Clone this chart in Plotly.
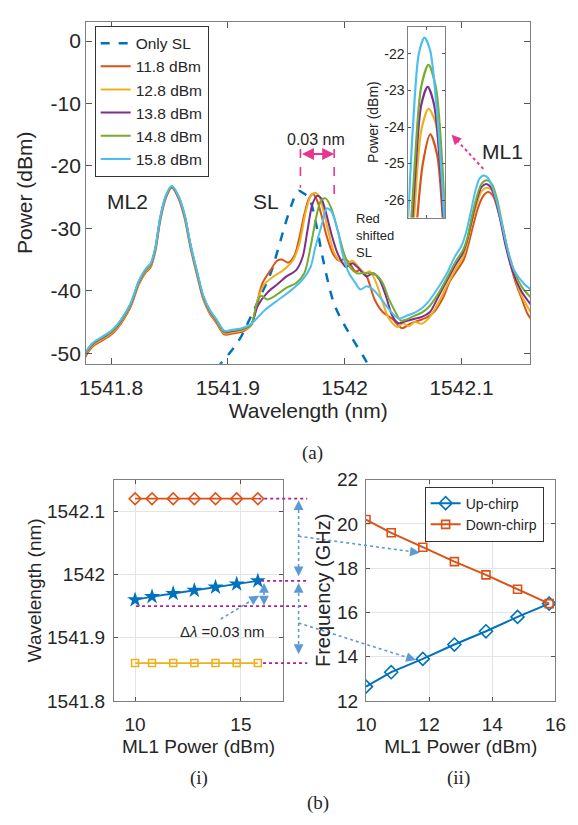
import plotly.graph_objects as go

W, H = 578, 825

# ---------------- (a) spectra data ----------------
ML2_WL = [1541.778, 1541.784, 1541.793, 1541.801, 1541.809, 1541.817, 1541.824, 1541.830,
          1541.834, 1541.838, 1541.842, 1541.847, 1541.852, 1541.858, 1541.863, 1541.868,
          1541.874, 1541.879, 1541.885, 1541.890, 1541.897, 1541.905, 1541.912]

only_sl_wl = [1541.890, 1541.909, 1541.9188, 1541.928, 1541.9366, 1541.9435, 1541.949, 1541.9545,
              1541.9585, 1541.9607, 1541.964, 1541.9695, 1541.9756, 1541.9805, 1541.986, 1541.9915,
              1541.9998, 1542.008, 1542.0175, 1542.022]
only_sl_pw = [-52.5, -48.1, -44.5, -40.8, -37.2, -33.0, -29.4, -26.25, -24.4, -24.0, -24.3, -25.2,
              -29.4, -34.1, -38.75, -42.4, -45.5, -48.1, -51.0, -52.5]

wl_118 = ML2_WL + [1541.920, 1541.9243, 1541.9297, 1541.9366, 1541.9421, 1541.9462, 1541.9517, 1541.9571,
                   1541.9612, 1541.9654, 1541.9695, 1541.9727, 1541.9763, 1541.9804, 1541.9845, 1541.9900,
                   1541.9955, 1541.9996, 1542.0037, 1542.0092, 1542.0133, 1542.0188, 1542.0256, 1542.0325,
                   1542.0407, 1542.049, 1542.055, 1542.060, 1542.066, 1542.071, 1542.076, 1542.080,
                   1542.085, 1542.090, 1542.097, 1542.102, 1542.106, 1542.110, 1542.114, 1542.118,
                   1542.1226, 1542.127, 1542.131, 1542.136, 1542.141, 1542.146, 1542.151, 1542.156, 1542.160]
pw_118 = [-50.6, -49.0, -47.9, -46.9, -45.1, -42.5, -38.9, -37.0, -36.2, -33.6, -28.9, -25.1, -23.5,
          -25.3, -28.4, -33.1, -37.8, -41.4, -43.8, -45.1, -47.0, -46.8, -46.6,
          -45.5, -42.4, -38.75, -36.7, -35.2, -35.0, -35.5, -34.3, -31.5, -27.8, -25.2, -24.5, -25.5,
          -28.1, -31.2, -34.1, -35.2, -34.9, -35.4, -36.9, -36.7, -37.7, -41.4, -43.4, -44.5, -46.0,
          -45.4, -45.0, -44.6, -44.2, -43.5, -42.5, -40.8, -38.5, -36.5, -35.0, -32.5, -29.5, -26.8,
          -25.0, -24.2, -24.8, -27.0, -30.5, -35.0, -38.5, -41.0, -43.5, -44.7]

wl_128 = ML2_WL + [1541.920, 1541.9256, 1541.9311, 1541.9393, 1541.9475, 1541.9558, 1541.9612, 1541.9667,
                   1541.9708, 1541.9744, 1541.9782, 1541.9826, 1541.9873, 1541.9914, 1541.9969, 1542.0024,
                   1542.0065, 1542.0119, 1542.0174, 1542.0215, 1542.027, 1542.0325, 1542.038, 1542.045,
                   1542.050, 1542.055, 1542.060, 1542.066, 1542.072, 1542.080, 1542.088, 1542.095,
                   1542.101, 1542.105, 1542.109, 1542.113, 1542.117, 1542.1215, 1542.126, 1542.130,
                   1542.134, 1542.139, 1542.145, 1542.152, 1542.160]
pw_128 = [-50.3, -48.8, -47.7, -46.7, -44.9, -42.3, -38.7, -36.8, -36.0, -33.4, -28.7, -25.0, -23.4,
          -25.2, -28.2, -32.9, -37.6, -41.2, -43.6, -44.9, -46.8, -46.6, -46.4,
          -45.5, -41.4, -39.0, -37.7, -36.7, -35.1, -32.5, -27.3, -24.9, -24.3, -24.9, -27.8, -31.5,
          -34.1, -35.4, -35.6, -35.2, -36.2, -37.2, -36.9, -38.75, -41.9, -44.5, -45.8, -45.2, -45.7,
          -45.0, -45.3, -44.4, -42.0, -39.0, -36.5, -34.7, -32.3, -29.0, -26.2, -24.1, -23.5, -23.9,
          -25.8, -29.0, -33.5, -37.5, -41.0, -43.7]

wl_138 = ML2_WL + [1541.920, 1541.9256, 1541.9338, 1541.9421, 1541.9503, 1541.9585, 1541.964, 1541.9681,
                   1541.9722, 1541.9763, 1541.9799, 1541.9837, 1541.9886, 1541.9941, 1542.001, 1542.0065,
                   1542.0119, 1542.0188, 1542.0243, 1542.0297, 1542.0352, 1542.0407, 1542.046, 1542.052,
                   1542.060, 1542.066, 1542.073, 1542.080, 1542.088, 1542.095, 1542.101, 1542.105,
                   1542.109, 1542.113, 1542.117, 1542.121, 1542.125, 1542.129, 1542.133, 1542.138,
                   1542.144, 1542.151, 1542.160]
pw_138 = [-50.1, -48.6, -47.5, -46.5, -44.7, -42.1, -38.5, -36.6, -35.8, -33.2, -28.5, -24.9, -23.3,
          -25.1, -28.0, -32.7, -37.4, -41.0, -43.4, -44.7, -46.6, -46.4, -46.2,
          -45.4, -42.4, -40.3, -39.0, -37.7, -36.7, -34.6, -30.4, -26.25, -24.8, -25.2, -27.3, -30.9,
          -34.1, -36.2, -35.6, -36.4, -37.7, -37.2, -38.2, -40.8, -44.0, -45.2, -44.9, -44.5, -44.2,
          -43.4, -41.0, -38.2, -35.8, -34.0, -31.8, -28.5, -25.5, -23.4, -22.9, -23.4, -25.3, -28.5,
          -33.0, -37.0, -40.0, -42.4]

wl_148 = ML2_WL + [1541.920, 1541.9243, 1541.9284, 1541.9338, 1541.9421, 1541.9503, 1541.9585, 1541.9654,
                   1541.9708, 1541.9755, 1541.9799, 1541.9837, 1541.9886, 1541.9941, 1541.9996, 1542.0051,
                   1542.0106, 1542.016, 1542.0215, 1542.027, 1542.0325, 1542.038, 1542.0434, 1542.048,
                   1542.053, 1542.060, 1542.066, 1542.072, 1542.080, 1542.088, 1542.095, 1542.101,
                   1542.105, 1542.109, 1542.113, 1542.117, 1542.1215, 1542.126, 1542.130, 1542.134,
                   1542.139, 1542.145, 1542.152, 1542.160]
pw_148 = [-50.0, -48.5, -47.4, -46.4, -44.6, -42.0, -38.4, -36.5, -35.7, -33.1, -28.4, -24.8, -23.3,
          -25.0, -27.9, -32.6, -37.3, -40.9, -43.3, -44.6, -46.5, -46.3, -46.1,
          -45.4, -42.4, -40.8, -41.4, -40.6, -39.5, -38.75, -37.2, -33.0, -28.3, -25.5, -25.2, -26.8,
          -30.4, -34.1, -36.4, -37.2, -37.2, -37.2, -37.5, -38.75, -41.4, -43.4, -44.8, -44.6, -44.0,
          -43.5, -42.6, -40.5, -37.8, -35.3, -33.6, -31.5, -28.0, -25.0, -22.9, -22.3, -22.9, -25.0,
          -28.5, -33.0, -36.8, -39.5, -41.2]

wl_158 = ML2_WL + [1541.920, 1541.9311, 1541.9421, 1541.953, 1541.964, 1541.9708, 1541.9749, 1541.9804,
                   1541.9845, 1541.9886, 1541.9941, 1541.9982, 1542.0037, 1542.0092, 1542.0133, 1542.0188,
                   1542.0243, 1542.030, 1542.038, 1542.0464, 1542.053, 1542.060, 1542.066, 1542.071,
                   1542.079, 1542.0875, 1542.0944, 1542.100, 1542.104, 1542.108, 1542.112, 1542.1155,
                   1542.119, 1542.1225, 1542.126, 1542.130, 1542.134, 1542.1397, 1542.145, 1542.153, 1542.160]
pw_158 = [-49.9, -48.4, -47.3, -46.3, -44.5, -41.9, -38.3, -36.4, -35.6, -33.0, -28.3, -24.7, -23.2,
          -24.9, -27.8, -32.5, -37.2, -40.8, -43.2, -44.5, -46.4, -46.2, -46.0,
          -45.3, -43.2, -41.6, -40.1, -38.2, -36.2, -33.0, -29.4, -26.8, -27.3, -30.4, -34.1, -37.2,
          -38.75, -39.8, -39.3, -39.8, -41.0, -43.0, -44.5, -44.0, -43.5, -42.8, -41.9, -39.8, -37.2,
          -34.5, -32.8, -30.6, -27.3, -23.9, -22.0, -21.55, -21.9, -23.2, -25.6, -28.9, -33.6, -36.7,
          -38.8, -39.9]

SERIES_NAMES = ["11.8 dBm", "12.8 dBm", "13.8 dBm", "14.8 dBm", "15.8 dBm"]
SERIES_WL = [wl_118, wl_128, wl_138, wl_148, wl_158]
SERIES_PW = [pw_118, pw_128, pw_138, pw_148, pw_158]

# ---------------- (b) data ----------------
ml1_power = [10, 10.8, 11.8, 12.8, 13.8, 14.8, 15.8]
ml1_line_wl = [1542.12, 1542.12, 1542.12, 1542.12, 1542.12, 1542.12, 1542.12]
sl_line_wl = [1541.960, 1541.965, 1541.970, 1541.975, 1541.980, 1541.985, 1541.990]
ml2_line_wl = [1541.86, 1541.86, 1541.86, 1541.86, 1541.86, 1541.86, 1541.86]
up_chirp = [12.65, 13.3, 13.9, 14.55, 15.15, 15.8, 16.4]
down_chirp = [20.2, 19.6, 18.95, 18.3, 17.7, 17.05, 16.4]

C_BLUE, C_ORANGE, C_YELLOW = "#0072BD", "#D95319", "#EDB120"
C_PURPLE, C_GREEN, C_CYAN = "#7E2F8E", "#77AC30", "#4DBEEE"
SERIES_COLORS = [C_ORANGE, C_YELLOW, C_PURPLE, C_GREEN, C_CYAN]
PINK = "#E8368F"
MAGENTA = "#B01E8F"
LBLUE = "#5B9BD5"
SANS = "Liberation Sans"
SERIF = "Liberation Serif"
TXT = "#262626"


def px(x):
    return x / W


def py(y):
    return 1 - y / H


fig = go.Figure()

# main spectra
fig.add_trace(go.Scatter(x=only_sl_wl, y=only_sl_pw, mode="lines", name="Only SL",
                         line=dict(color=C_BLUE, width=2.5, dash="dash", shape="spline"),
                         xaxis="x", yaxis="y", legend="legend"))
for nm, xs, ys, c in zip(SERIES_NAMES, SERIES_WL, SERIES_PW, SERIES_COLORS):
    fig.add_trace(go.Scatter(x=xs, y=ys, mode="lines", name=nm,
                             line=dict(color=c, width=2, shape="spline", smoothing=0.8),
                             xaxis="x", yaxis="y", legend="legend"))
# inset
for nm, xs, ys, c in zip(SERIES_NAMES, SERIES_WL, SERIES_PW, SERIES_COLORS):
    fig.add_trace(go.Scatter(x=xs, y=ys, mode="lines", showlegend=False,
                             line=dict(color=c, width=2.2, shape="spline", smoothing=0.8),
                             xaxis="x2", yaxis="y2"))

# (i)
fig.add_trace(go.Scatter(x=ml1_power, y=ml1_line_wl, mode="lines+markers", showlegend=False,
                         line=dict(color=C_ORANGE, width=1.8),
                         marker=dict(symbol="diamond-open", size=9, line=dict(width=1.6, color=C_ORANGE)),
                         xaxis="x3", yaxis="y3"))
fig.add_trace(go.Scatter(x=ml1_power, y=sl_line_wl, mode="lines+markers", showlegend=False,
                         line=dict(color=C_BLUE, width=1.8),
                         marker=dict(symbol="star", size=12, color=C_BLUE),
                         xaxis="x3", yaxis="y3"))
fig.add_trace(go.Scatter(x=ml1_power, y=ml2_line_wl, mode="lines+markers", showlegend=False,
                         line=dict(color=C_YELLOW, width=1.8),
                         marker=dict(symbol="square-open", size=7, line=dict(width=1.6, color=C_YELLOW)),
                         xaxis="x3", yaxis="y3"))
# (ii)
fig.add_trace(go.Scatter(x=ml1_power, y=up_chirp, mode="lines+markers", name="Up-chirp",
                         line=dict(color=C_BLUE, width=2),
                         marker=dict(symbol="diamond-open", size=10, line=dict(width=1.6, color=C_BLUE)),
                         xaxis="x4", yaxis="y4", legend="legend2"))
fig.add_trace(go.Scatter(x=ml1_power, y=down_chirp, mode="lines+markers", name="Down-chirp",
                         line=dict(color=C_ORANGE, width=2),
                         marker=dict(symbol="square-open", size=8, line=dict(width=1.6, color=C_ORANGE)),
                         xaxis="x4", yaxis="y4", legend="legend2"))

axis_common = dict(ticks="inside", showline=True, linecolor="#7f7f7f", linewidth=1,
                   tickcolor="#555555", mirror="allticks", zeroline=False,
                   tickfont=dict(family=SANS, size=19, color=TXT))

TOP_WL_TICKS = [1541.8, 1541.9, 1542.0, 1542.1]
TOP_WL_TEXT = ["1541.8", "1541.9", "1542", "1542.1"]
POW_TICKS = [0, -10, -20, -30, -40, -50]
POW_TEXT = ["0", "-10", "-20", "-30", "-40", "-50"]
INSET_TICKS = [-22, -23, -24, -25, -26]
INSET_TEXT = ["-22", "-23", "-24", "-25", "-26"]
B_WL_TICKS = [1541.8, 1541.9, 1542.0, 1542.1]
B_WL_TEXT = ["1541.8", "1541.9", "1542", "1542.1"]

fig.update_layout(
    width=W, height=H, margin=dict(l=0, r=0, t=0, b=0),
    paper_bgcolor="white", plot_bgcolor="white", hovermode=False,
    font=dict(family=SANS, color=TXT),
    xaxis=dict(axis_common, domain=[px(78), px(540)], anchor="y", range=[1541.7786, 1542.159],
               tickvals=TOP_WL_TICKS, ticktext=TOP_WL_TEXT, ticklen=6, showgrid=False,
               tickfont=dict(family=SANS, size=21, color=TXT), ticklabelstandoff=5,
               title=dict(text="Wavelength (nm)", font=dict(size=21, color=TXT), standoff=0)),
    yaxis=dict(axis_common, domain=[py(363), py(12)], anchor="x", range=[-51.7, 3.1],
               tickvals=POW_TICKS, ticktext=POW_TEXT, ticklen=6, showgrid=False,
               tickfont=dict(family=SANS, size=21, color=TXT),
               title=dict(text="Power (dBm)", font=dict(size=21, color=TXT), standoff=12)),
    xaxis2=dict(axis_common, domain=[px(413), px(451)], anchor="y2", range=[1542.109, 1542.1316],
                tickvals=[1542.12], showticklabels=False, ticklen=3, showgrid=False),
    yaxis2=dict(axis_common, domain=[py(213), py(17)], anchor="x2", range=[-26.48, -21.25],
                tickvals=INSET_TICKS, ticktext=INSET_TEXT, ticklen=3, showgrid=False,
                tickfont=dict(family=SANS, size=14, color=TXT),
                title=dict(text="Power (dBm)", font=dict(size=14, color=TXT), standoff=2)),
    xaxis3=dict(axis_common, domain=[px(107), px(283)], anchor="y3", range=[9, 17],
                tickvals=[10, 15], ticklen=4, showgrid=True, gridcolor="#e4e4e4",
                ticklabelstandoff=6,
                title=dict(text="ML1 Power (dBm)", font=dict(size=19, color=TXT), standoff=5)),
    yaxis3=dict(axis_common, domain=[py(709), py(482)], anchor="x3", range=[1541.8, 1542.15],
                tickvals=B_WL_TICKS, ticktext=B_WL_TEXT, ticklen=4, showgrid=True, gridcolor="#e4e4e4",
                ticklabelstandoff=4,
                title=dict(text="Wavelength (nm)", font=dict(size=19, color=TXT), standoff=0)),
    xaxis4=dict(axis_common, domain=[px(369), px(566)], anchor="y4", range=[10, 16],
                tickvals=[10, 12, 14, 16], ticklen=4, showgrid=True, gridcolor="#e4e4e4",
                ticklabelstandoff=6,
                title=dict(text="ML1 Power (dBm)", font=dict(size=19, color=TXT), standoff=5)),
    yaxis4=dict(axis_common, domain=[py(709), py(482)], anchor="x4", range=[12, 22],
                tickvals=[12, 14, 16, 18, 20, 22], ticklen=4, showgrid=True, gridcolor="#e4e4e4",
                ticklabelstandoff=3,
                title=dict(text="Frequency (GHz)", font=dict(size=20, color=TXT), standoff=1)),
    legend=dict(x=px(87), y=py(16), xanchor="left", yanchor="top", bgcolor="white",
                bordercolor="#333333", borderwidth=1, font=dict(family=SANS, size=15.5, color=TXT),
                tracegroupgap=0),
    legend2=dict(x=px(430), y=py(489), xanchor="left", yanchor="top", bgcolor="white",
                 bordercolor="#333333", borderwidth=1, font=dict(family=SANS, size=14, color=TXT)),
)

# ---------- annotations / decorations ----------
def text(x, y, s, size, family=SANS, xanchor="center", align="center"):
    fig.add_annotation(x=px(x), y=py(y), xref="paper", yref="paper", text=s, showarrow=False,
                       font=dict(family=family, size=size, color=TXT), xanchor=xanchor,
                       yanchor="middle", align=align)


def dline(x0, y0, x1, y1, color, width=1.6, dash="dot"):
    fig.add_shape(type="line", xref="paper", yref="paper", x0=px(x0), y0=py(y0), x1=px(x1), y1=py(y1),
                  line=dict(color=color, width=width, dash=dash))


def head(x, y, dx, dy, color, L=9):
    n = (dx * dx + dy * dy) ** 0.5
    fig.add_annotation(x=px(x), y=py(y), xref="paper", yref="paper", text="", showarrow=True,
                       ax=-dx / n * L, ay=-dy / n * L, arrowhead=2, arrowsize=1.4, arrowwidth=1.4,
                       arrowcolor=color, standoff=0)


text(121, 196, "ML2", 21)
text(265, 196, "SL", 21)
text(511, 145, "ML1", 21)
text(317, 133, "0.03 nm", 16)
text(357, 231, "Red<br>shifted<br>SL", 13, xanchor="left", align="left")

# 0.03 nm marker (data coordinates)
for xv, ylo in [(1541.9621, -23.5), (1541.991, -26.0)]:
    fig.add_shape(type="line", xref="x", yref="y", x0=xv, x1=xv, y0=-17.3, y1=ylo,
                  line=dict(color=PINK, width=1.6, dash="dash"))
fig.add_annotation(x=1541.991, y=-18.1, ax=1541.9621, ay=-18.1, xref="x", yref="y", axref="x", ayref="y",
                   text="", showarrow=True, arrowhead=2, arrowside="end+start", arrowsize=1.2,
                   arrowwidth=2, arrowcolor=PINK)

# ML1 -> inset arrow
dline(491, 163, 461, 131, PINK, width=2)
head(458, 128, -33, -35, PINK)

# (a) (i) (ii) (b)
text(313, 455, "(a)", 19, family=SERIF)
text(195, 788, "(i)", 19, family=SERIF)
text(465, 788, "(ii)", 19, family=SERIF)
text(319, 814, "(b)", 19, family=SERIF)
text(220, 638, "Δ<i>λ</i> =0.03 nm", 15)

# magenta dotted guides (y in data units of plot (i))
for x0, yv in [(257, 1542.12), (260, 1541.99), (130, 1541.95), (262, 1541.86)]:
    fig.add_shape(type="line", xref="paper", yref="y3", x0=px(x0), x1=px(308), y0=yv, y1=yv,
                  line=dict(color=MAGENTA, width=1.8, dash="dot"))

# blue dotted arrows
dline(299, 507, 299, 577, LBLUE)
head(299, 503, 0, -1, LBLUE)
head(299, 581, 0, 1, LBLUE)
dline(299, 592, 299, 657, LBLUE)
head(299, 588, 0, -1, LBLUE)
head(299, 661, 0, 1, LBLUE)
dline(299, 540, 418, 556, LBLUE)
head(425, 557, 119, 16, LBLUE)
dline(299, 629, 414, 665, LBLUE)
head(421, 667, 121, 37, LBLUE)
dline(263, 591, 263, 608, LBLUE)
head(263, 588, 0, -1, LBLUE, L=7)
head(263, 611, 0, 1, LBLUE, L=7)
dline(218, 625, 253, 604, LBLUE)
head(258, 601, 40, -24, LBLUE)

fig.write_html("out.html")
